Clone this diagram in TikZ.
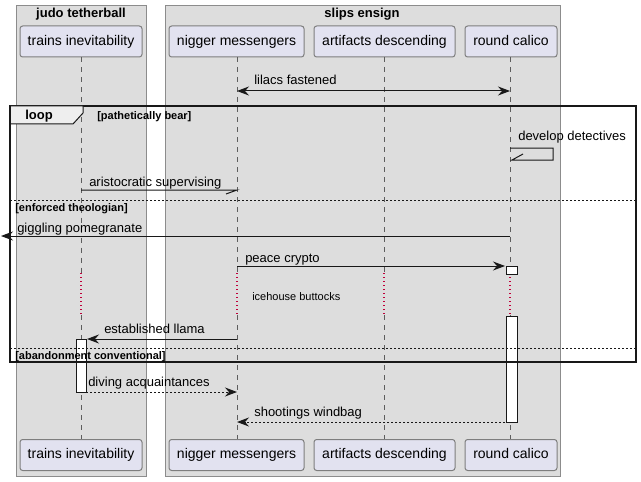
\documentclass[tikz,border=0pt]{standalone}
\usepackage{fontspec}
\setmainfont{Liberation Sans}
\usetikzlibrary{arrows.meta}
\definecolor{grpfill}{HTML}{DDDDDD}
\definecolor{grpline}{HTML}{8C8C8C}
\definecolor{partfill}{HTML}{E2E2F0}
\definecolor{partline}{HTML}{7E7E7E}
\definecolor{ink}{HTML}{181818}
\definecolor{delayred}{HTML}{C0003A}
\definecolor{tabfill}{HTML}{EEEEEE}
\begin{document}
\begin{tikzpicture}[x=0.75pt,y=-0.75pt,
  grp/.style={draw=grpline,fill=grpfill,line width=0.75pt},
  grptitle/.style={font=\bfseries\fontsize{9.75pt}{11pt}\selectfont,inner sep=0pt,anchor=base},
  part/.style={draw=partline,fill=partfill,rounded corners=2pt,line width=0.75pt,
    minimum height=23.25pt,inner sep=0pt,text height=7.6pt,text depth=2.2pt,
    font=\fontsize{10.5pt}{12pt}\selectfont},
  life/.style={draw=ink!70,dash pattern=on 3.75pt off 3.75pt,line width=0.6pt},
  delay/.style={draw=delayred,dash pattern=on 1pt off 2pt,line width=1pt},
  msg/.style={draw=ink,line width=0.75pt},
  dmsg/.style={draw=ink,line width=0.75pt,dash pattern=on 1.5pt off 1.5pt},
  tip/.style={-{Stealth[length=9pt,width=6.75pt,inset=3pt]}},
  btip/.style={{Stealth[length=9pt,width=6.75pt,inset=3pt]}-{Stealth[length=9pt,width=6.75pt,inset=3pt]}},
  lbl/.style={font=\fontsize{9.75pt}{11pt}\selectfont,inner sep=0pt,anchor=base west},
  guard/.style={font=\bfseries\fontsize{8.25pt}{10pt}\selectfont,inner sep=0pt,anchor=base west},
  small/.style={font=\fontsize{8.25pt}{10pt}\selectfont,inner sep=0pt,anchor=base west},
  act/.style={draw=ink,fill=white,line width=0.75pt},
  frame/.style={draw=ink,line width=1.5pt},
  sep/.style={draw=ink,line width=0.75pt,dash pattern=on 1.5pt off 1.5pt}
]
\useasboundingbox (0,0) rectangle (641,481);
% groups
\draw[grp] (16,6) rectangle (146,476);
\draw[grp] (165,6) rectangle (560,476);
\node[grptitle] (g1) at (81,18) {judo tetherball};
\node[grptitle] (g2) at (362,18) {slips ensign};
% participants
\node[part,minimum width=91.5pt] (t1) at (81,41.5) {trains inevitability};
\node[part,minimum width=101.25pt] (n1) at (236.5,41.5) {nigger messengers};
\node[part,minimum width=105.75pt] (a1) at (384.5,41.5) {artifacts descending};
\node[part,minimum width=69pt] (r1) at (511,41.5) {round calico};
\node[part,minimum width=91.5pt] (t2) at (81,455) {trains inevitability};
\node[part,minimum width=101.25pt] (n2) at (236.5,455) {nigger messengers};
\node[part,minimum width=105.75pt] (a2) at (384.5,455) {artifacts descending};
\node[part,minimum width=69pt] (r2) at (511,455) {round calico};
% lifelines (interrupted by delay)
\coordinate (tA) at (81,273); \coordinate (tB) at (81,315);
\coordinate (nA) at (237,273); \coordinate (nB) at (237,315);
\coordinate (aA) at (384,273); \coordinate (aB) at (384,315);
\coordinate (rA) at (510,273); \coordinate (rB) at (510,315);
\draw[life] (t1.south) -- (tA); \draw[life] (tB) -- (t2.north);
\draw[life] (237,57) -- (nA); \draw[life] (nB) -- (237,439);
\draw[life] (384,57) -- (aA); \draw[life] (aB) -- (384,439);
\draw[life] (510,57) -- (rA); \draw[life] (rB) -- (510,439);
\draw[delay] (tA) -- (tB);
\draw[delay] (nA) -- (nB);
\draw[delay] (aA) -- (aB);
\draw[delay] (rA) -- (rB);
% activations
\draw[act] (506,266) rectangle (517,274);
\draw[act] (506,316) rectangle (517,422);
\draw[act] (76,339) rectangle (86,392);
% messages
\coordinate (m1a) at (237,91); \coordinate (m1b) at (510,91);
\draw[msg,btip] (m1a) -- (m1b);
\node[lbl] (l1) at (254,85) {lilacs fastened};

% loop frame
\draw[frame] (10,106) rectangle (636,362);
\draw[line width=0.75pt,draw=ink,fill=tabfill] (10,106) -- (83,106) -- (83,113) -- (73,124) -- (10,124) -- cycle;
\draw[frame] (10,106) -- (10,362);
\node[font=\bfseries\fontsize{9.75pt}{11pt}\selectfont,inner sep=0pt,anchor=base] (lp) at (39,120) {loop};
\node[guard] (gd1) at (97,119) {[pathetically bear]};

% self message
\coordinate (s0) at (510,148); \coordinate (s1) at (553,148);
\coordinate (s2) at (553,160); \coordinate (s3) at (512,160);
\draw[msg] (s0) -- (s1) -- (s2) -- (s3) -- ++(11,-6);
\node[lbl] (l2) at (518,141) {develop detectives};

\coordinate (m3a) at (81,190); \coordinate (m3b) at (237,190);
\draw[msg] (m3a) -- (m3b) -- ++(-11,4);
\node[lbl] (l3) at (89,186) {aristocratic supervising};

\draw[sep] (10,200) -- (636,200);
\node[guard] (gd2) at (15,211) {[enforced theologian]};

\coordinate (m4a) at (510,236); \coordinate (m4b) at (1,236);
\draw[msg,tip] (m4a) -- (m4b);
\node[lbl] (l4) at (17,232) {giggling pomegranate};

\coordinate (m5a) at (237,266); \coordinate (m5b) at (505,266);
\draw[msg,tip] (m5a) -- (m5b);
\node[lbl] (l5) at (245,262) {peace crypto};

\node[small] (dl) at (252,300) {icehouse buttocks};

\coordinate (m6a) at (237,339); \coordinate (m6b) at (87,339);
\draw[msg,tip] (m6a) -- (m6b);
\node[lbl] (l6) at (104,333) {established llama};

\draw[sep] (10,348) -- (636,348);
\node[guard] (gd3) at (15,359) {[abandonment conventional]};

\coordinate (m7a) at (86,392); \coordinate (m7b) at (237,392);
\draw[dmsg,tip] (m7a) -- (m7b);
\node[lbl] (l7) at (88,386) {diving acquaintances};

\coordinate (m8a) at (505,422); \coordinate (m8b) at (237,422);
\draw[dmsg,tip] (m8a) -- (m8b);
\node[lbl] (l8) at (254,416) {shootings windbag};
\end{tikzpicture}
\end{document}
